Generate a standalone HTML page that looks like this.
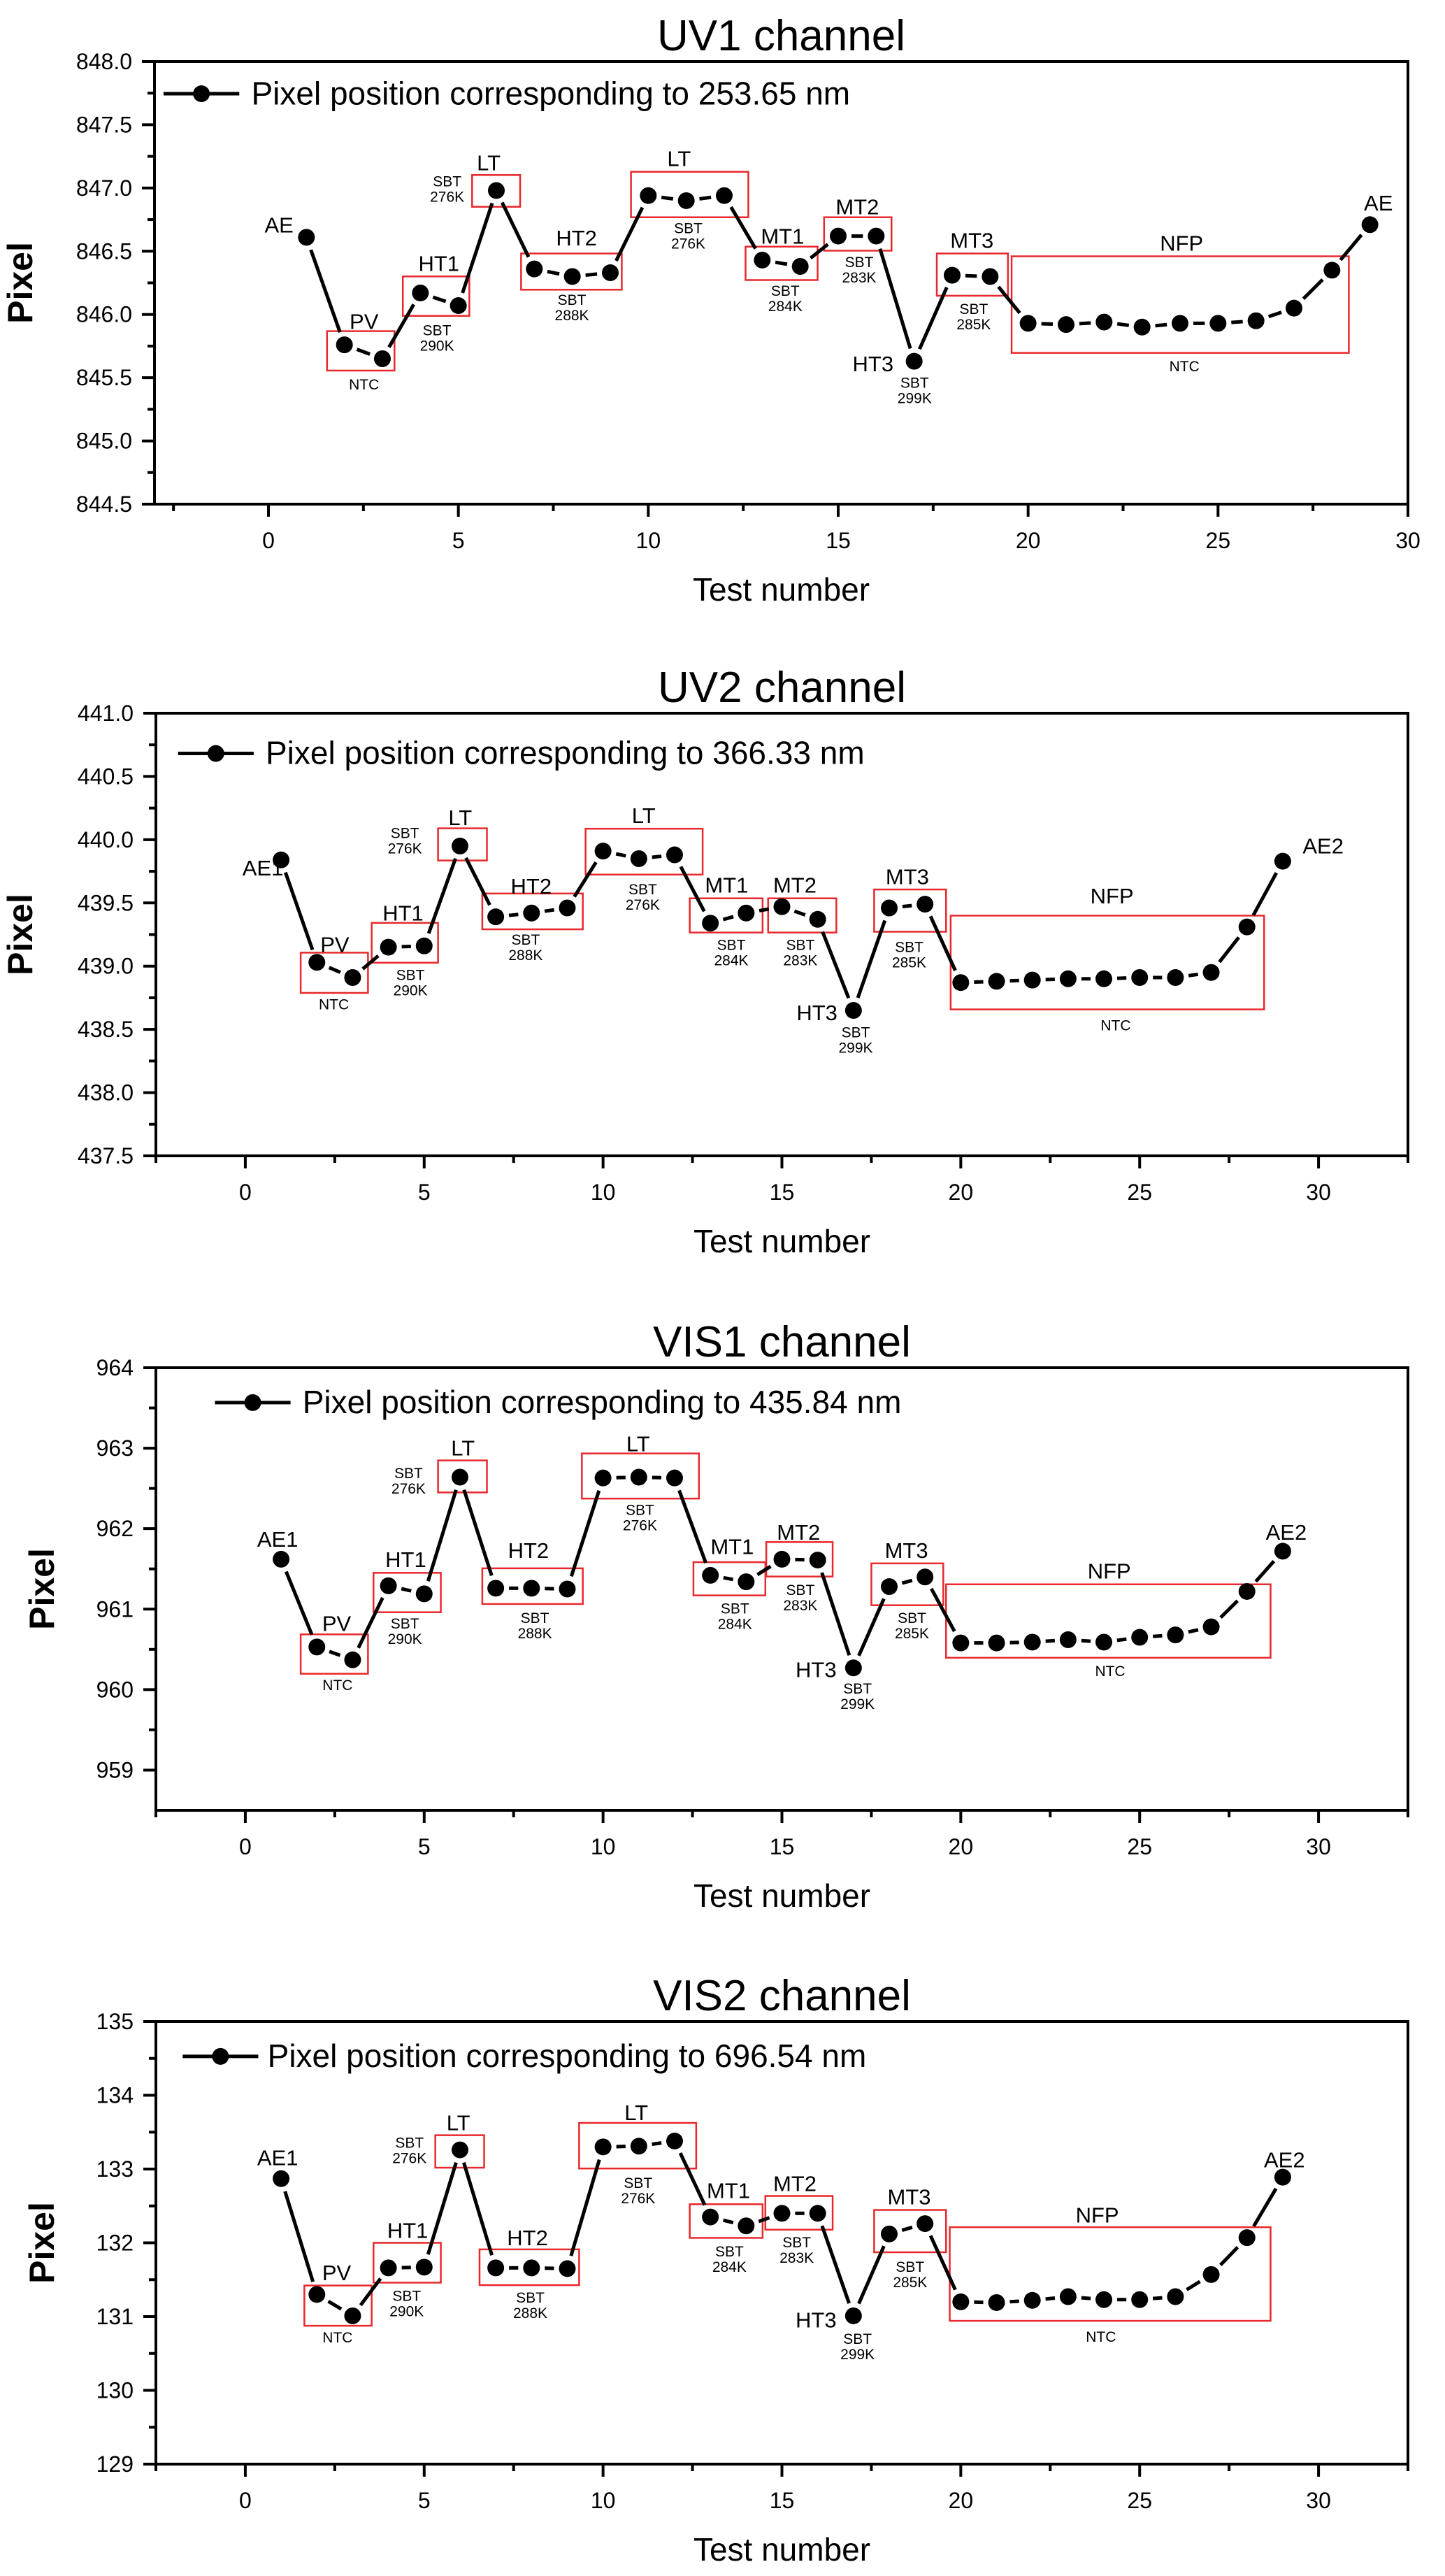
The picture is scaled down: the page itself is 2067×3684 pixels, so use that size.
<!DOCTYPE html>
<html>
<head>
<meta charset="utf-8">
<style>
html,body{margin:0;padding:0;background:#fff;}
svg{display:block;font-family:"Liberation Sans",Arial,sans-serif;}
</style>
</head>
<body>
<svg id="fig" width="2067" height="3684" viewBox="0 0 2067 3684" xmlns="http://www.w3.org/2000/svg"></svg>
<script>
// ---- data ----
const testNumbers = [1,2,3,4,5,6,7,8,9,10,11,12,13,14,15,16,17,18,19,20,21,22,23,24,25,26,27,28,29];
const uv1Values = [846.61,845.76,845.65,846.17,846.07,846.98,846.36,846.30,846.33,846.94,846.90,846.94,846.43,846.38,846.62,846.62,845.63,846.31,846.30,845.93,845.92,845.94,845.90,845.93,845.93,845.95,846.05,846.35,846.71];
const uv2Values = [439.84,439.03,438.91,439.15,439.16,439.95,439.39,439.42,439.46,439.91,439.85,439.88,439.34,439.42,439.47,439.37,438.65,439.46,439.49,438.87,438.88,438.89,438.90,438.90,438.91,438.91,438.95,439.31,439.83];
const vis1Values = [961.62,960.53,960.37,961.29,961.19,962.64,961.26,961.26,961.25,962.63,962.64,962.63,961.42,961.34,961.62,961.61,960.27,961.28,961.40,960.58,960.58,960.59,960.62,960.59,960.65,960.68,960.78,961.22,961.72];
const vis2Values = [132.87,131.30,131.01,131.66,131.67,133.26,131.66,131.66,131.65,133.30,133.31,133.38,132.35,132.23,132.40,132.40,131.01,132.12,132.26,131.20,131.19,131.22,131.27,131.23,131.23,131.27,131.57,132.07,132.89];
const xTickLabels = ["0","5","10","15","20","25","30"];
const uv1YTicks = ["844.5","845.0","845.5","846.0","846.5","847.0","847.5","848.0"];
const uv2YTicks = ["437.5","438.0","438.5","439.0","439.5","440.0","440.5","441.0"];
const vis1YTicks = ["959","960","961","962","963","964"];
const vis2YTicks = ["129","130","131","132","133","134","135"];
const titles = ["UV1  channel","UV2  channel","VIS1  channel","VIS2  channel"];
const legendTexts = ["Pixel position corresponding to 253.65 nm","Pixel position corresponding to 366.33 nm","Pixel position corresponding to 435.84 nm","Pixel position corresponding to 696.54 nm"];

const NS = "http://www.w3.org/2000/svg";
const svg = document.getElementById('fig');
function mk(tag, attrs, parent, text){
  const e = document.createElementNS(NS, tag);
  for (const k in attrs) e.setAttribute(k, attrs[k]);
  if (text !== undefined) e.textContent = text;
  (parent||svg).appendChild(e);
  return e;
}

const charts = [
 {vals:uv1Values, yt:uv1YTicks, ymin:844.5, ymax:848, ystep:0.5, top:88, bottom:721, xmin:-3, xmax:30, pixX:46,
  dxs:1.3215, dys:0.5755, dyo:155, legend:[180,262,235,275,262],
  boxes:[[357,430,825,923],[439,511,689,787],[514,566,437,516],[567,676,632,722],[686,813,429,542],[810,888,615,698],[895,968,542,625],[1017,1094,632,737],[1098,1463,639,879]],
  big:[["AE",305,580],["PV",397,820],["HT1",478,675],["LT",532,425],["HT2",627,612],["LT",738,415],["MT1",850,608],["MT2",931,535],["HT3",948,925],["MT3",1055,618],["NFP",1282,625],["AE",1495,525]],
  small:[["276K",487,465],["290K",476,835],["276K",748,582],["288K",622,760],["284K",853,737],["283K",933,666],["299K",993,966],["285K",1057,782]],
  ntc:[[397,970],[1285,925]]},
 {vals:uv2Values, yt:uv2YTicks, ymin:437.5, ymax:441, ystep:0.5, top:1020, bottom:1653, xmin:-2.5, xmax:32.5, pixX:46,
  dxs:1.3188, dys:0.5755, dyo:212, legend:[193,275,312,288,338],
  boxes:[[326,399,807,907],[403,475,733,832],[475,528,498,578],[523,632,660,749],[635,762,499,613],[748,827,672,757],[833,907,672,757],[948,1026,650,755],[1031,1371,715,948]],
  big:[["AE1",285,615],["PV",363,805],["HT1",437,727],["LT",499,490],["HT2",576,660],["LT",698,485],["MT1",788,658],["MT2",862,658],["HT3",886,975],["MT3",984,637],["NFP",1206,685],["AE2",1435,560]],
  small:[["276K",439,522],["290K",445,875],["276K",697,662],["288K",570,787],["284K",793,800],["283K",868,800],["299K",928,1017],["285K",986,805]],
  ntc:[[362,948],[1210,1000]]},
 {vals:vis1Values, yt:vis1YTicks, ymin:958.5, ymax:964, ystep:1, top:1956, bottom:2589, xmin:-2.5, xmax:32.5, pixX:77,
  dxs:1.3188, dys:0.5867, dyo:196, legend:[233,315,281,328,307],
  boxes:[[326,399,846,942],[405,478,696,792],[475,528,422,500],[523,632,685,772],[631,758,405,515],[752,830,670,751],[831,903,621,705],[945,1023,673,775],[1026,1378,724,903]],
  big:[["AE1",301,632],["PV",365,838],["HT1",440,682],["LT",502,410],["HT2",573,660],["LT",692,400],["MT1",794,650],["MT2",866,615],["HT3",885,950],["MT3",983,660],["NFP",1203,710],["AE2",1395,615]],
  small:[["276K",443,465],["290K",439,832],["276K",694,555],["288K",580,818],["284K",797,795],["283K",868,750],["299K",930,990],["285K",989,818]],
  ntc:[[366,982],[1204,948]]},
 {vals:vis2Values, yt:vis2YTicks, ymin:129, ymax:135, ystep:1, top:2891, bottom:3524, xmin:-2.5, xmax:32.5, pixX:77,
  dxs:1.3188, dys:0.5872, dyo:215, legend:[198,280,300,290,326],
  boxes:[[330,403,858,956],[405,478,754,851],[472,525,492,571],[520,628,770,857],[628,755,462,573],[748,827,660,742],[830,903,640,722],[948,1026,674,777],[1030,1378,716,944]],
  big:[["AE1",301,565],["PV",365,845],["HT1",442,742],["LT",497,480],["HT2",572,760],["LT",690,455],["MT1",790,645],["MT2",862,628],["HT3",885,960],["MT3",986,660],["NFP",1190,705],["AE2",1393,570]],
  small:[["276K",444,522],["290K",441,895],["276K",692,620],["288K",575,900],["284K",791,787],["283K",864,765],["299K",930,1000],["285K",987,825]],
  ntc:[[366,997],[1194,995]]}
];
const names = ["uv1","uv2","vis1","vis2"];
const LEFT_DEFAULT = 223, RIGHT = 2014;

charts.forEach((c, ci) => {
  const g = mk('g', {});
  
  
  const left = ci === 0 ? 221 : LEFT_DEFAULT;
  const xs = v => left + (v - c.xmin) / (c.xmax - c.xmin) * (RIGHT - left);
  const ys = v => c.bottom - (v - c.ymin) / (c.ymax - c.ymin) * (c.bottom - c.top);
  const dx = xd => RIGHT - (1527 - xd) * c.dxs;
  const dy = yd => c.top + (yd - c.dyo) * c.dys;

  const t = mk('text', {x:(left+RIGHT)/2, y:c.top-16, 'text-anchor':'middle', 'font-size':62, fill:'#000'}, g, titles[ci]);
  
  

  const fr = mk('rect', {x:left, y:c.top, width:RIGHT-left, height:c.bottom-c.top, fill:'none', stroke:'#000', 'stroke-width':4}, g);
  
  

  const yAxis = mk('g', {}, g);
  
  
  c.yt.forEach(lbl => {
    const v = parseFloat(lbl), y = ys(v);
    mk('line', {x1:left-18, x2:left, y1:y, y2:y, stroke:'#000', 'stroke-width':4}, yAxis);
    const tl = mk('text', {x:left-32, y:y+11, 'text-anchor':'end', 'font-size':32}, yAxis, lbl);
    
    
    const mv = v + c.ystep/2;
    if (mv < c.ymax) { const my = ys(mv); mk('line', {x1:left-10, x2:left, y1:my, y2:my, stroke:'#000', 'stroke-width':4}, yAxis); }
  });
  const yt = mk('text', {x:c.pixX, y:(c.top+c.bottom)/2, 'text-anchor':'middle', 'font-size':50, 'font-weight':'bold', transform:'rotate(-90 '+c.pixX+' '+((c.top+c.bottom)/2)+')'}, g, 'Pixel');
  
  

  const xAxis = mk('g', {}, g);
  
  
  for (let v = -2.5; v <= c.xmax + 0.01; v += 2.5) {
    const x = xs(v), major = Math.abs(v % 5) < 0.01;
    mk('line', {x1:x, x2:x, y1:c.bottom, y2:c.bottom + (major?18:10), stroke:'#000', 'stroke-width':4}, xAxis);
  }
  xTickLabels.forEach(lbl => {
    const tl = mk('text', {x:xs(parseFloat(lbl)), y:c.bottom+63, 'text-anchor':'middle', 'font-size':32}, xAxis, lbl);
    
    
  });
  const xt = mk('text', {x:(left+RIGHT)/2, y:c.bottom+138, 'text-anchor':'middle', 'font-size':46, 'xml:space':'preserve'}, g, 'Test  number');
  
  

  const L = c.legend;
  const lg = mk('g', {}, g);
  
  
  mk('line', {x1:dx(L[0]), x2:dx(L[1]), y1:dy(L[2]), y2:dy(L[2]), stroke:'#000', 'stroke-width':5}, lg);
  mk('circle', {cx:(dx(L[0])+dx(L[1]))/2, cy:dy(L[2]), r:12, fill:'#000'}, lg);
  mk('text', {x:dx(L[3]), y:dy(L[4]), 'font-size':46}, lg, legendTexts[ci]);

  c.boxes.forEach(b => {
    const r = mk('rect', {x:dx(b[0]), y:dy(b[2]), width:dx(b[1])-dx(b[0]), height:dy(b[3])-dy(b[2]), fill:'none', stroke:'#e8282c', 'stroke-width':2.5}, g);
    
    
  });
  c.big.forEach(a => {
    const tl = mk('text', {x:dx(a[1]), y:dy(a[2]), 'text-anchor':'middle', 'font-size':31}, g, a[0]);
    
    
  });
  c.small.forEach(a => {
    const tl = mk('text', {x:dx(a[1]), y:dy(a[2]), 'text-anchor':'middle', 'font-size':21}, g);
    
    
    mk('tspan', {x:dx(a[1]), dy:0}, tl, 'SBT');
    mk('tspan', {x:dx(a[1]), dy:22}, tl, a[0]);
  });
  c.ntc.forEach(a => {
    const tl = mk('text', {x:dx(a[0]), y:dy(a[1]), 'text-anchor':'middle', 'font-size':21}, g, 'NTC');
    
    
  });

  const sg = mk('g', {}, g);
  
  
  const pts = testNumbers.map((n, i) => [xs(n), ys(c.vals[i])]);
  for (let i = 0; i < pts.length - 1; i++) {
    const [x1,y1] = pts[i], [x2,y2] = pts[i+1];
    const d = Math.hypot(x2-x1, y2-y1), gap = 19;
    if (d <= 2*gap) continue;
    const ux = (x2-x1)/d, uy = (y2-y1)/d;
    const seg = mk('line', {x1:x1+ux*gap, y1:y1+uy*gap, x2:x2-ux*gap, y2:y2-uy*gap, stroke:'#000', 'stroke-width':5}, sg);
    
    
  }
  pts.forEach(p => {
    const m = mk('circle', {cx:p[0], cy:p[1], r:12, fill:'#000'}, sg);
    
    
  });
});
</script>
</body>
</html>
